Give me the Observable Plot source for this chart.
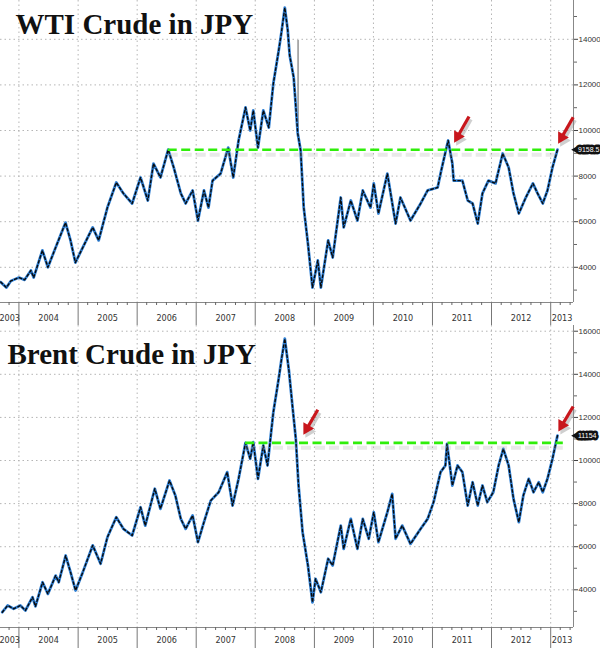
<!DOCTYPE html>
<html><head><meta charset="utf-8">
<script src="https://cdn.jsdelivr.net/npm/d3@7"></script>
<script src="https://cdn.jsdelivr.net/npm/@observablehq/plot@0.6"></script>
<style>
body{margin:0;background:#fff;width:600px;height:648px;overflow:hidden}
#charts svg{display:block}
</style></head><body><div id="charts"></div>
<script>
// ---------- DATA ----------
const wtiDates = ["2003-09-10","2003-10-15","2003-11-12","2004-01-01","2004-02-05","2004-03-15","2004-04-01","2004-05-25","2004-06-28","2004-08-15","2004-10-15","2004-11-15","2004-12-15","2005-01-30","2005-04-01","2005-05-08","2005-07-01","2005-08-25","2005-10-08","2005-12-01","2006-01-22","2006-03-08","2006-04-12","2006-05-25","2006-07-12","2006-08-15","2006-09-28","2006-10-28","2006-12-10","2007-01-12","2007-02-18","2007-03-18","2007-04-12","2007-06-01","2007-07-18","2007-08-18","2007-09-20","2007-11-02","2007-12-01","2007-12-20","2008-01-18","2008-02-20","2008-03-25","2008-04-22","2008-05-25","2008-06-10","2008-07-02","2008-07-20","2008-08-01","2008-08-26","2008-09-20","2008-10-08","2008-10-27","2008-11-22","2008-12-20","2009-01-22","2009-02-10","2009-03-27","2009-04-24","2009-06-13","2009-07-01","2009-08-14","2009-09-24","2009-10-27","2009-12-14","2010-01-03","2010-02-01","2010-03-28","2010-05-18","2010-06-17","2010-08-18","2010-10-20","2010-12-02","2011-02-02","2011-02-20","2011-03-10","2011-04-08","2011-05-04","2011-05-12","2011-07-05","2011-08-07","2011-09-06","2011-10-08","2011-11-06","2011-12-13","2012-01-26","2012-03-10","2012-04-16","2012-05-16","2012-06-18","2012-07-31","2012-09-13","2012-10-12","2012-11-13","2012-12-12","2013-01-12","2013-02-12"];
const wtiValues = [3350,3110,3400,3550,3450,3860,3550,4740,4000,4870,5960,5180,4210,4870,5750,5180,6620,7720,7240,6800,7940,6930,8550,7940,9160,8380,7240,6800,7370,6050,7370,6620,7800,8110,9250,7940,9560,11010,10000,10880,9250,10880,10130,12060,13500,14250,15390,14400,13300,12320,9870,9120,6620,5040,3110,4300,3110,5180,4430,7060,5750,6930,6050,7370,6620,7680,6360,8110,5920,7060,6050,6800,7370,7500,8110,8680,9560,8550,7800,7800,6930,6800,5920,7240,7800,7680,8990,8380,7240,6360,7060,7680,7240,6800,7370,8380,9158];

const brentDates = ["2003-09-20","2003-10-23","2003-11-29","2004-01-10","2004-02-10","2004-03-25","2004-04-12","2004-05-26","2004-06-28","2004-08-15","2004-09-03","2004-10-16","2004-11-15","2004-12-16","2005-01-30","2005-04-01","2005-05-20","2005-07-01","2005-08-25","2005-10-08","2005-12-01","2006-01-22","2006-02-20","2006-04-20","2006-05-25","2006-07-20","2006-08-25","2006-09-28","2006-10-28","2006-12-10","2007-01-12","2007-02-18","2007-04-01","2007-05-20","2007-07-12","2007-08-14","2007-09-20","2007-11-02","2007-12-01","2007-12-20","2008-01-18","2008-02-20","2008-03-17","2008-04-22","2008-05-25","2008-06-12","2008-07-02","2008-07-27","2008-08-20","2008-09-08","2008-09-20","2008-09-25","2008-10-20","2008-11-22","2008-12-20","2009-01-08","2009-02-10","2009-03-27","2009-04-24","2009-06-13","2009-07-01","2009-08-14","2009-09-24","2009-10-27","2009-12-03","2010-01-03","2010-02-01","2010-03-28","2010-04-27","2010-05-18","2010-06-28","2010-08-18","2010-10-20","2010-12-02","2011-01-08","2011-02-20","2011-03-22","2011-04-01","2011-05-04","2011-06-05","2011-07-05","2011-08-07","2011-09-06","2011-10-08","2011-11-06","2011-12-06","2012-01-12","2012-02-14","2012-03-14","2012-04-16","2012-05-16","2012-06-18","2012-07-16","2012-08-18","2012-09-17","2012-10-19","2012-11-13","2012-12-12","2013-01-12","2013-02-12"];
const brentValues = [2960,3270,3120,3270,3040,3660,3230,4350,3810,4660,4350,5590,4820,3970,4820,6060,5210,6440,7370,6830,6520,7830,6980,8690,7760,9070,8380,7290,6830,7450,6210,7140,8140,8530,9460,7910,9150,10820,10080,10850,9150,10700,9770,12240,13790,14720,15650,14200,12400,11010,9460,8840,6670,5130,3420,4510,3890,5440,5130,6980,5900,7290,5900,7290,6370,7600,6210,7600,8450,6370,6980,6130,6830,7290,8070,9460,9770,10770,8840,9770,9460,7910,8990,7910,8840,8070,8530,9770,10540,9770,8220,7140,8380,9150,8530,8990,8530,9150,10080,11154];

const titles = ["WTI Crude in JPY", "Brent Crude in JPY"];
const lastLabels = ["9158.5", "11154"];
const lastValues = [9158.5, 11154];
// horizontal resistance levels (green dashed)
const levelValues = [9158, 10820];
const levelStarts = ["2006-07-12", "2007-11-02"];
const levelEnds = ["2013-02-16", "2013-03-20"];
// red arrows (tail -> tip), per chart
const wtiArrowTails = [["2011-08-15", 10614], ["2013-05-20", 10583]];
const wtiArrowTips  = [["2011-05-17", 9487],  ["2013-02-18", 9443]];
const brentArrowTails = [["2009-01-22", 12353], ["2013-05-20", 12506]];
const brentArrowTips  = [["2008-10-28", 11239], ["2013-02-20", 11392]];
const yTicksTop = [4000, 6000, 8000, 10000, 12000, 14000];
const yTicksBottom = [4000, 6000, 8000, 10000, 12000, 14000, 16000];
const yearLabels = [2003, 2004, 2005, 2006, 2007, 2008, 2009, 2010, 2011, 2012, 2013];
const wtiSpike = {date: "2008-09-22", low: 9900, high: 13950};

// ---------- CHART ----------
const xDomain = [new Date("2003-09-09"), new Date("2013-05-22")];
const yearStarts = d3.range(2004, 2014).map(y => new Date(Date.UTC(y, 0, 1)));
const minorX = d3.utcMonth.every(2).range(xDomain[0], xDomain[1]).filter(d => d.getUTCMonth() !== 0);
const labelDates = yearLabels.map(y => {
  const a = new Date(Math.max(Date.UTC(y, 0, 1), +xDomain[0]));
  const b = new Date(Math.min(Date.UTC(y + 1, 0, 1), +xDomain[1]));
  return new Date((+a + +b) / 2);
});
const axisFont = "'Liberation Sans Narrow','DejaVu Sans Condensed','Liberation Sans',sans-serif";
const lerp = (a, b, t) => a + (b - a) * t;

function makeChart(cfg) {
  const data = cfg.dates.map((d, i) => ({date: new Date(d), value: cfg.values[i]}));
  const arrows = cfg.tails.map((t, i) => {
    const x1 = +new Date(t[0]), y1 = t[1], x2 = +new Date(cfg.tips[i][0]), y2 = cfg.tips[i][1];
    return {
      x1: new Date(x1), y1,
      xn: new Date(lerp(x2, x1, 0.3)), yn: lerp(y2, y1, 0.3),
      xh: new Date(lerp(x2, x1, 0.22)), yh: lerp(y2, y1, 0.22)
    };
  });
  const minorY = d3.range(3000, 17000, 2000).filter(v => v > cfg.yDomain[0] && v < cfg.yDomain[1]);
  const level = [{v: cfg.level, x1: new Date(cfg.levelStart), x2: new Date(cfg.levelEnd)}];
  const marks = [
    Plot.ruleY(cfg.yTicks, {stroke: "#b5b5b5", strokeDasharray: "1.5,3"}),
    Plot.ruleX(yearStarts, {stroke: "#b5b5b5", strokeDasharray: "1.5,3"}),
    Plot.ruleX([xDomain[1]], {stroke: "#888"}),
    Plot.ruleY([cfg.yDomain[0]], {stroke: "#888"}),
    Plot.axisX({ticks: minorX, tickSize: 3, tickFormat: () => "", stroke: "#666"}),
    Plot.axisX({ticks: yearStarts, tickSize: cfg.marginBottom, tickFormat: () => "", stroke: "#777"}),
    Plot.axisX({ticks: labelDates, tickSize: 0, tickPadding: cfg.labelPad, tickFormat: d3.utcFormat("%Y"), fill: "#333"}),
    Plot.axisY({anchor: "right", ticks: cfg.yTicks, tickSize: 4, tickPadding: 1, tickFormat: d => String(d), fill: "#333", stroke: "#444", fontSize: 8, fontFamily: "'Liberation Sans',sans-serif"}),
    Plot.axisY({anchor: "right", ticks: minorY, tickSize: 3, tickFormat: () => "", stroke: "#666"}),
  ];
  if (cfg.spike) {
    marks.push(Plot.ruleX([cfg.spike], {x: d => new Date(d.date), y1: "low", y2: "high", stroke: "#9a9a9a", strokeWidth: 1.6}));
  }
  marks.push(
    Plot.line(data, {x: "date", y: "value", stroke: "#2f7fd3", strokeWidth: 2.8}),
    Plot.line(data, {x: "date", y: "value", stroke: "#0a0a0a", strokeWidth: 1.4, strokeDasharray: "2.5,2.5"}),
    Plot.ruleY(level, {y: "v", x1: "x1", x2: "x2", dy: 5, stroke: "#999", strokeWidth: 4, strokeOpacity: 0.22, strokeDasharray: "10,4"}),
    Plot.ruleY(level, {y: "v", x1: "x1", x2: "x2", stroke: "#2fee0a", strokeWidth: 2.6, strokeDasharray: "9,4.5"}),
    // arrow shadows
    Plot.link(arrows, {x1: "x1", y1: "y1", x2: "xn", y2: "yn", dx: 2, dy: 3, stroke: "#888", strokeOpacity: 0.4, strokeWidth: 3.4}),
    Plot.dot(arrows, {x: "xh", y: "yh", dx: 2, dy: 3, symbol: "triangle", rotate: 210, r: 4.6, fill: "#888", fillOpacity: 0.4}),
    // arrows
    Plot.link(arrows, {x1: "x1", y1: "y1", x2: "xn", y2: "yn", stroke: "#c8161c", strokeWidth: 3.2}),
    Plot.dot(arrows, {x: "xh", y: "yh", symbol: "triangle", rotate: 210, r: 4.6, fill: "#c8161c"}),
    Plot.text([cfg.title], {frameAnchor: "top-left", dx: cfg.titleDx, dy: cfg.titleDy, lineAnchor: "top", fontSize: 29, fontWeight: "bold", fontFamily: "'Liberation Serif','DejaVu Serif',serif", fill: "#111"}),
    Plot.dot([cfg.lastValue], {y: d => d, frameAnchor: "right", dx: 3, symbol: "triangle", rotate: -90, r: 3.4, fill: "#111"}),
    Plot.text([cfg.lastValue], {y: d => d, frameAnchor: "right", dx: 4.5, textAnchor: "start", text: () => cfg.lastLabel, fill: "#fff", stroke: "#111", strokeWidth: 5, strokeLinejoin: "round", paintOrder: "stroke", fontSize: 7, fontFamily: "'Liberation Sans',sans-serif"})
  );
  return Plot.plot({
    width: 600, height: cfg.height,
    marginLeft: 0, marginRight: 27, marginTop: 0, marginBottom: cfg.marginBottom,
    x: {type: "utc", domain: xDomain, axis: null},
    y: {domain: cfg.yDomain, axis: null},
    style: {fontFamily: axisFont, fontSize: "9px", color: "#333", background: "#fff", overflow: "visible"},
    marks
  });
}

const root = document.getElementById("charts");
root.append(makeChart({
  dates: wtiDates, values: wtiValues, title: titles[0], yDomain: [2456, 15702], yTicks: yTicksTop,
  height: 325, marginBottom: 23, labelPad: 12, titleDx: 15, titleDy: 13,
  level: levelValues[0], levelStart: levelStarts[0], levelEnd: levelEnds[0],
  tails: wtiArrowTails, tips: wtiArrowTips, lastValue: lastValues[0], lastLabel: lastLabels[0], spike: wtiSpike
}));
root.append(makeChart({
  dates: brentDates, values: brentValues, title: titles[1], yDomain: [2251, 16265], yTicks: yTicksBottom,
  height: 323, marginBottom: 21, labelPad: 9, titleDx: 7, titleDy: 18,
  level: levelValues[1], levelStart: levelStarts[1], levelEnd: levelEnds[1],
  tails: brentArrowTails, tips: brentArrowTips, lastValue: lastValues[1], lastLabel: lastLabels[1], spike: null
}));
</script></body></html>
